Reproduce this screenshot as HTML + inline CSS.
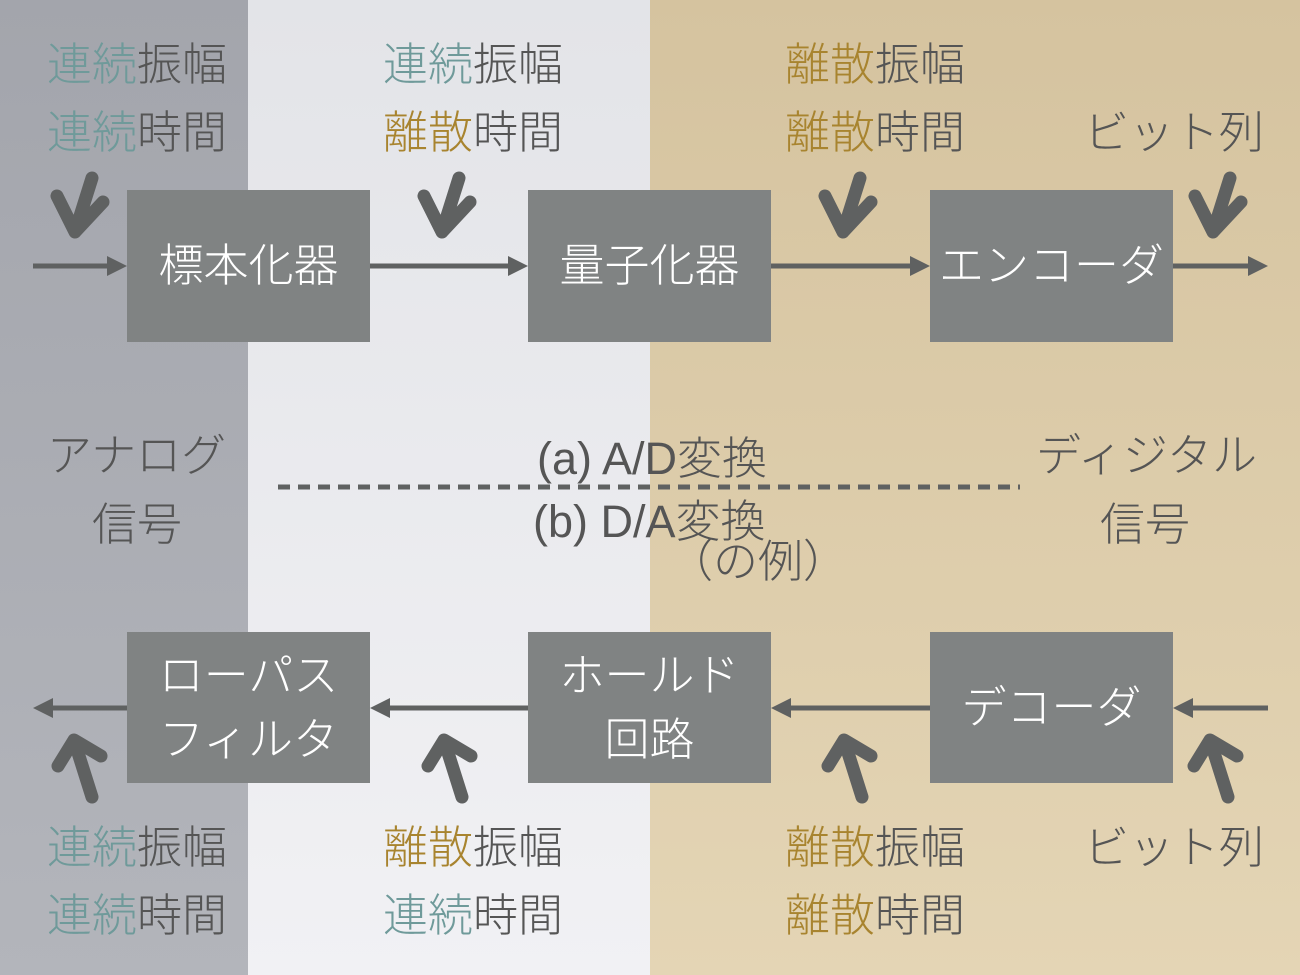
<!DOCTYPE html>
<html><head><meta charset="utf-8"><style>
body{margin:0;width:1300px;height:975px;overflow:hidden;position:relative;font-family:"Liberation Sans","Noto Sans CJK JP",sans-serif;font-weight:300}
.bg{position:absolute;top:0;height:975px}
.t{position:absolute;font-size:45px;line-height:50px;white-space:nowrap;color:#555;margin-top:3px}
.c{color:#6f9a9a}.g{color:#a8842f}
.box{position:absolute;background:#808383;color:#fff;font-size:45px;display:flex;align-items:center;justify-content:center;text-align:center;line-height:64px}
svg{position:absolute;left:0;top:0}
</style></head><body>
<div class="bg" style="left:0;width:248px;background:linear-gradient(#a3a5ac,#b3b5bb)"></div>
<div class="bg" style="left:248px;width:402px;background:linear-gradient(#e3e4e8,#f1f1f4)"></div>
<div class="bg" style="left:650px;width:650px;background:linear-gradient(#d5c39f,#e4d5b5)"></div>

<div class="t" style="left:47px;top:37px"><span class="c">連続</span>振幅</div>
<div class="t" style="left:47px;top:105px"><span class="c">連続</span>時間</div>
<div class="t" style="left:383px;top:37px"><span class="c">連続</span>振幅</div>
<div class="t" style="left:383px;top:105px"><span class="g">離散</span>時間</div>
<div class="t" style="left:785px;top:37px"><span class="g">離散</span>振幅</div>
<div class="t" style="left:785px;top:105px"><span class="g">離散</span>時間</div>
<div class="t" style="left:1084px;top:105px">ビット列</div>

<div class="t" style="left:47px;top:820px"><span class="c">連続</span>振幅</div>
<div class="t" style="left:47px;top:888px"><span class="c">連続</span>時間</div>
<div class="t" style="left:383px;top:820px"><span class="g">離散</span>振幅</div>
<div class="t" style="left:383px;top:888px"><span class="c">連続</span>時間</div>
<div class="t" style="left:785px;top:820px"><span class="g">離散</span>振幅</div>
<div class="t" style="left:785px;top:888px"><span class="g">離散</span>時間</div>
<div class="t" style="left:1084px;top:820px">ビット列</div>

<div class="t" style="left:47px;top:428px">アナログ</div>
<div class="t" style="left:92px;top:497px">信号</div>
<div class="t" style="left:1036px;top:428px">ディジタル</div>
<div class="t" style="left:1100px;top:497px">信号</div>
<div class="t" style="left:537px;top:431px">(a) A/D変換</div>
<div class="t" style="left:533px;top:494px">(b) D/A変換</div>
<div class="t" style="left:668px;top:534px">（の例）</div>

<div class="box" style="left:127px;top:190px;width:243px;height:152px">標本化器</div>
<div class="box" style="left:528px;top:190px;width:243px;height:152px">量子化器</div>
<div class="box" style="left:930px;top:190px;width:243px;height:152px">エンコーダ</div>
<div class="box" style="left:127px;top:632px;width:243px;height:151px">ローパス<br>フィルタ</div>
<div class="box" style="left:528px;top:632px;width:243px;height:151px">ホールド<br>回路</div>
<div class="box" style="left:930px;top:632px;width:243px;height:151px">デコーダ</div>

<svg width="1300" height="975">
<g stroke="#5f6161" stroke-width="5" fill="#5f6161">
<line x1="33" y1="266" x2="112" y2="266"/><polygon points="127,266 107,256 107,276" stroke="none"/>
<line x1="370" y1="266" x2="513" y2="266"/><polygon points="528,266 508,256 508,276" stroke="none"/>
<line x1="771" y1="266" x2="915" y2="266"/><polygon points="930,266 910,256 910,276" stroke="none"/>
<line x1="1173" y1="266" x2="1253" y2="266"/><polygon points="1268,266 1248,256 1248,276" stroke="none"/>
<line x1="48" y1="708" x2="127" y2="708"/><polygon points="33,708 53,698 53,718" stroke="none"/>
<line x1="385" y1="708" x2="528" y2="708"/><polygon points="370,708 390,698 390,718" stroke="none"/>
<line x1="786" y1="708" x2="930" y2="708"/><polygon points="771,708 791,698 791,718" stroke="none"/>
<line x1="1188" y1="708" x2="1268" y2="708"/><polygon points="1173,708 1193,698 1193,718" stroke="none"/>
<line x1="278" y1="487" x2="1020" y2="487" stroke-width="5" stroke-dasharray="12,8"/>
</g>
<g stroke="#5f6161" stroke-width="13" stroke-linecap="round" stroke-linejoin="round" fill="none">
<path d="M92,178 L75,232 M57,196 L75,232 L103,202"/>
<path d="M459,178 L442,232 M424,196 L442,232 L470,202"/>
<path d="M860,178 L843,232 M825,196 L843,232 L871,202"/>
<path d="M1230,178 L1213,232 M1195,196 L1213,232 L1241,202"/>
<path d="M92,797 L74,740 M58,766 L74,740 L101,756"/>
<path d="M462,797 L444,740 M428,766 L444,740 L471,756"/>
<path d="M862,797 L844,740 M828,766 L844,740 L871,756"/>
<path d="M1228,797 L1210,740 M1194,766 L1210,740 L1237,756"/>
</g>
</svg>
</body></html>
